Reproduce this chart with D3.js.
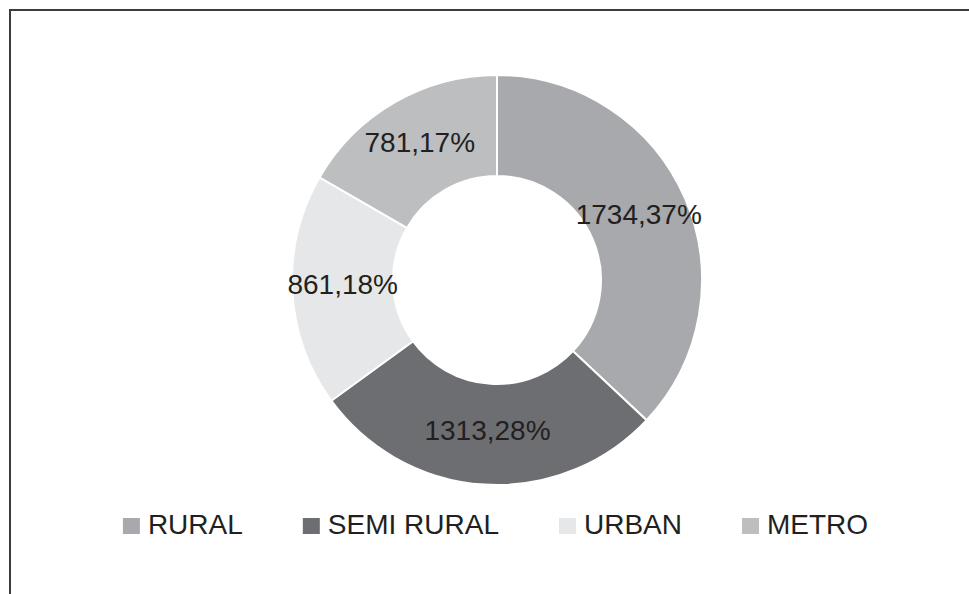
<!DOCTYPE html>
<html>
<head>
<meta charset="utf-8">
<script src="https://cdn.jsdelivr.net/npm/d3@7"></script>
<style>
  body { margin: 0; background: #fff; }
  svg { display: block; }
</style>
</head>
<body>
<svg id="chart" width="969" height="594"></svg>
<script>
// data
const categories = ['RURAL', 'SEMI RURAL', 'URBAN', 'METRO']
const values = [1734, 1313, 861, 781]
const colors = ['#a7a9ac', '#6d6e71', '#e6e7e8', '#bcbec0']

const svg = d3.select('#chart')
const width = 969
const height = 594

// frame (top and left edges visible)
svg.append('path')
  .attr('d', `M10,${height} L10,10 L${width},10`)
  .attr('fill', 'none')
  .attr('stroke', '#3c3c3c')
  .attr('stroke-width', 2)

const cx = 497
const cy = 280
const outerR = 205
const innerR = 104

const total = d3.sum(values)
const data = categories.map((c, i) => ({ name: c, value: values[i], color: colors[i] }))

const pie = d3.pie().value(d => d.value).sort(null)
const arc = d3.arc().innerRadius(innerR).outerRadius(outerR)
const labelArc = d3.arc().innerRadius((innerR + outerR) / 2).outerRadius((innerR + outerR) / 2)

const g = svg.append('g').attr('transform', `translate(${cx},${cy})`)

const arcs = pie(data)

g.selectAll('path.slice')
  .data(arcs)
  .enter()
  .append('path')
  .attr('class', 'slice')
  .attr('d', arc)
  .attr('fill', d => d.data.color)
  .attr('stroke', '#fff')
  .attr('stroke-width', 2)

g.selectAll('text.lbl')
  .data(arcs)
  .enter()
  .append('text')
  .attr('class', 'lbl')
  .attr('transform', d => `translate(${labelArc.centroid(d)})`)
  .attr('text-anchor', 'middle')
  .attr('dy', '0.2em')
  .attr('font-family', 'Liberation Sans, Arial, sans-serif')
  .attr('font-size', '28px')
  .attr('fill', '#231f20')
  .text(d => `${d.data.value},${Math.round(d.data.value / total * 100)}%`)

// legend
const legend = svg.append('g')
const sq = 17
const gapText = 8
const gapItem = 60
const baseline = 534
const legendCenter = 495.5

const items = legend.selectAll('g.item')
  .data(data)
  .enter()
  .append('g')
  .attr('class', 'item')

items.append('rect')
  .attr('width', sq)
  .attr('height', 16)
  .attr('y', baseline - 16)
  .attr('fill', d => d.color)

items.append('text')
  .attr('x', sq + gapText)
  .attr('y', baseline)
  .attr('font-family', 'Liberation Sans, Arial, sans-serif')
  .attr('font-size', '28px')
  .attr('fill', '#231f20')
  .text(d => d.name)

let offset = 0
const widths = []
items.each(function () {
  const w = sq + gapText + d3.select(this).select('text').node().getComputedTextLength()
  widths.push(w)
})
const totalW = d3.sum(widths) + gapItem * (widths.length - 1)
const x0 = legendCenter - totalW / 2
items.attr('transform', (d, i) => {
  const x = x0 + offset
  offset += widths[i] + gapItem
  return `translate(${x},0)`
})
</script>
</body>
</html>
